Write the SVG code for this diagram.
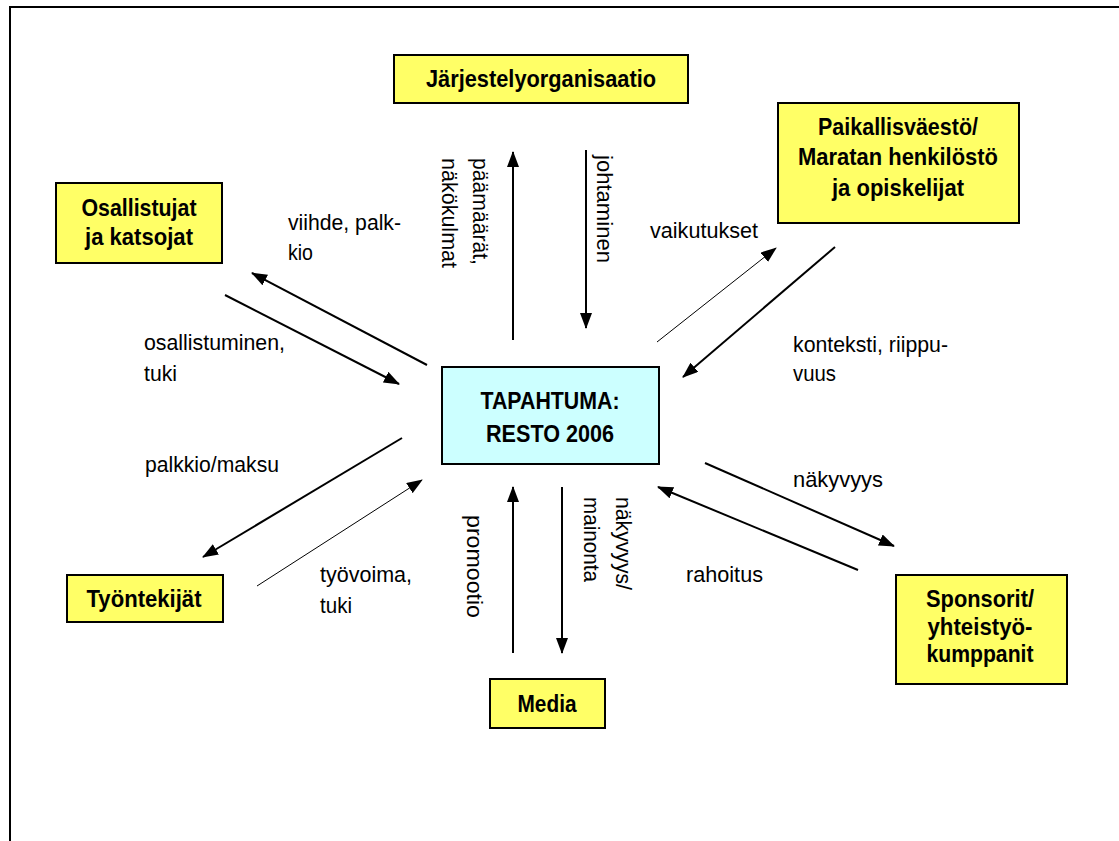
<svg xmlns="http://www.w3.org/2000/svg" width="1119" height="841" viewBox="0 0 1119 841">
<style>
.n{font-family:"Liberation Sans",Arial,sans-serif;font-weight:bold;font-size:24px;text-anchor:middle;fill:#000}
.l{font-family:"Liberation Sans",Arial,sans-serif;font-size:22px;fill:#000}
.y{fill:#FFFF66;stroke:#000;stroke-width:2}
.c{fill:#CCFFFF;stroke:#000;stroke-width:2}
.a{stroke:#000;stroke-width:2;fill:none;marker-end:url(#ah)}
.t{stroke:#000;stroke-width:1;fill:none;marker-end:url(#ah)}
</style>
<defs>
<marker id="ah" markerUnits="userSpaceOnUse" markerWidth="16" markerHeight="12" refX="15" refY="6" orient="auto" viewBox="0 0 16 12">
<path d="M0,0 L16,6 L0,12 z" fill="#000"/>
</marker>
</defs>
<rect width="1119" height="841" fill="#fff"/>
<path d="M10,841 V7 H1119" fill="none" stroke="#000" stroke-width="2"/>
<g id="jarjestely"><rect class="y" x="394" y="55" width="294" height="48"/><text class="n" x="541" y="87" textLength="230" lengthAdjust="spacingAndGlyphs">Järjestelyorganisaatio</text></g>
<g id="osallistujat"><rect class="y" x="56" y="183" width="166" height="80"/><text class="n" x="139" y="216" textLength="115" lengthAdjust="spacingAndGlyphs">Osallistujat</text><text class="n" x="139" y="245" textLength="108" lengthAdjust="spacingAndGlyphs">ja katsojat</text></g>
<g id="paikallis"><rect class="y" x="778" y="103" width="241" height="120"/><text class="n" x="898" y="135" textLength="160" lengthAdjust="spacingAndGlyphs">Paikallisväestö/</text><text class="n" x="898" y="165" textLength="200" lengthAdjust="spacingAndGlyphs">Maratan henkilöstö</text><text class="n" x="898" y="196" textLength="132" lengthAdjust="spacingAndGlyphs">ja opiskelijat</text></g>
<g id="tapahtuma"><rect class="c" x="442" y="367" width="217" height="97"/><text class="n" x="550" y="409" textLength="139" lengthAdjust="spacingAndGlyphs">TAPAHTUMA:</text><text class="n" x="550" y="442" textLength="128" lengthAdjust="spacingAndGlyphs">RESTO 2006</text></g>
<g id="media"><rect class="y" x="490" y="679" width="115" height="49"/><text class="n" x="547" y="712" textLength="59" lengthAdjust="spacingAndGlyphs">Media</text></g>
<g id="tyontekijat"><rect class="y" x="67" y="575" width="156" height="47"/><text class="n" x="144" y="607" textLength="115" lengthAdjust="spacingAndGlyphs">Työntekijät</text></g>
<g id="sponsorit"><rect class="y" x="896" y="575" width="171" height="109"/><text class="n" x="980" y="607" textLength="108" lengthAdjust="spacingAndGlyphs">Sponsorit/</text><text class="n" x="980" y="635" textLength="105" lengthAdjust="spacingAndGlyphs">yhteistyö-</text><text class="n" x="980" y="662" textLength="107" lengthAdjust="spacingAndGlyphs">kumppanit</text></g>
<g id="connectors">
<line class="a" x1="513" y1="340" x2="513" y2="152"/>
<line class="a" x1="586" y1="150" x2="586" y2="328"/>
<line class="a" x1="427" y1="365" x2="252" y2="273"/>
<line class="a" x1="225" y1="295" x2="399" y2="384"/>
<line class="t" x1="657" y1="342" x2="776" y2="248"/>
<line class="a" x1="835" y1="247" x2="683" y2="377"/>
<line class="a" x1="402" y1="438" x2="203" y2="557"/>
<line class="t" x1="257" y1="586" x2="422" y2="480"/>
<line class="a" x1="513" y1="653" x2="513" y2="487"/>
<line class="a" x1="562" y1="487" x2="562" y2="653"/>
<line class="a" x1="705" y1="463" x2="894" y2="546"/>
<line class="a" x1="858" y1="570" x2="658" y2="487"/>
</g>
<g id="labels">
<text class="l" x="288" y="230" textLength="113" lengthAdjust="spacingAndGlyphs">viihde, palk-</text>
<text class="l" x="288" y="260" textLength="25" lengthAdjust="spacingAndGlyphs">kio</text>
<text class="l" x="144" y="350" textLength="141" lengthAdjust="spacingAndGlyphs">osallistuminen,</text>
<text class="l" x="144" y="381" textLength="33" lengthAdjust="spacingAndGlyphs">tuki</text>
<text class="l" transform="translate(473,158) rotate(90)" textLength="107" lengthAdjust="spacingAndGlyphs">päämäärät,</text>
<text class="l" transform="translate(442,158) rotate(90)" textLength="110" lengthAdjust="spacingAndGlyphs">näkökulmat</text>
<text class="l" transform="translate(597,155) rotate(90)" textLength="108" lengthAdjust="spacingAndGlyphs">johtaminen</text>
<text class="l" x="650" y="238" textLength="108" lengthAdjust="spacingAndGlyphs">vaikutukset</text>
<text class="l" x="793" y="352" textLength="155" lengthAdjust="spacingAndGlyphs">konteksti, riippu-</text>
<text class="l" x="793" y="381" textLength="43" lengthAdjust="spacingAndGlyphs">vuus</text>
<text class="l" x="145" y="472" textLength="134" lengthAdjust="spacingAndGlyphs">palkkio/maksu</text>
<text class="l" x="320" y="582" textLength="92" lengthAdjust="spacingAndGlyphs">työvoima,</text>
<text class="l" x="320" y="613" textLength="32" lengthAdjust="spacingAndGlyphs">tuki</text>
<text class="l" transform="translate(467,515) rotate(90)" textLength="103" lengthAdjust="spacingAndGlyphs">promootio</text>
<text class="l" transform="translate(616,497) rotate(90)" textLength="93" lengthAdjust="spacingAndGlyphs">näkyvyys/</text>
<text class="l" transform="translate(584,497) rotate(90)" textLength="85" lengthAdjust="spacingAndGlyphs">mainonta</text>
<text class="l" x="793" y="487" textLength="90" lengthAdjust="spacingAndGlyphs">näkyvyys</text>
<text class="l" x="686" y="582" textLength="77" lengthAdjust="spacingAndGlyphs">rahoitus</text>
</g>
</svg>
